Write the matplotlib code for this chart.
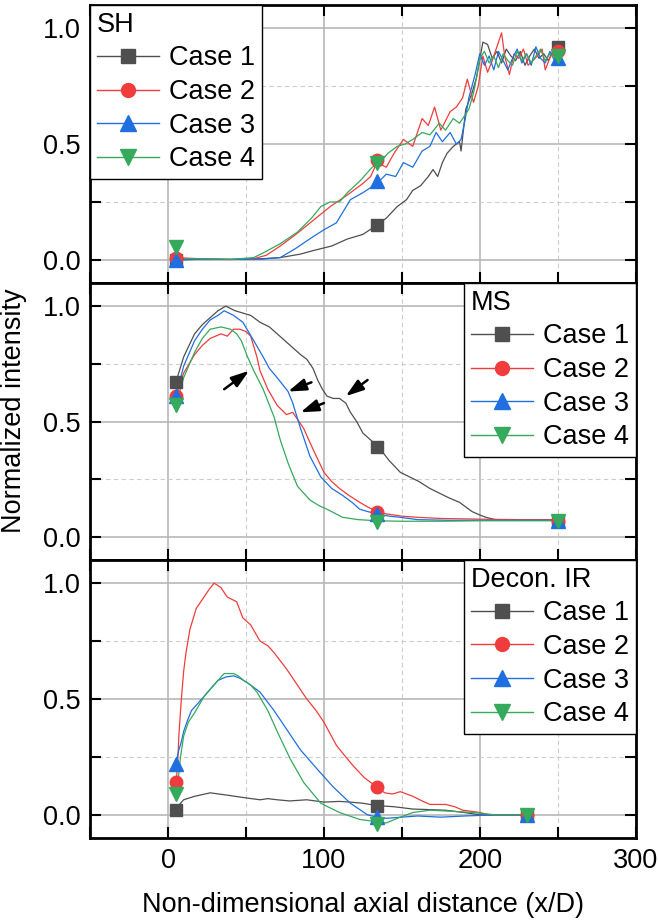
import matplotlib
matplotlib.use("Agg")
import matplotlib.pyplot as plt
from matplotlib.lines import Line2D
from matplotlib.ticker import MultipleLocator, FormatStrFormatter

plt.rcParams["font.family"] = ["Liberation Sans", "DejaVu Sans"]

# ---- data ----
case_labels = ["Case 1", "Case 2", "Case 3", "Case 4"]
case_colors = ["#4f4f4f", "#f03c3c", "#1f6fe0", "#35a95c"]
case_markers = ["s", "o", "^", "v"]

# SH
sh_x1 = [5, 20, 40, 60, 72, 85, 93, 105, 115, 125, 134, 140, 147, 153, 157, 162, 167, 170, 173, 176,
         179, 183, 187, 188, 191, 195, 198, 202, 205, 208, 211, 214, 217, 220, 223, 226, 229, 232,
         235, 238, 241, 244, 247, 250]
sh_y1 = [0, 0.003, 0.002, 0.005, 0.01, 0.025, 0.04, 0.06, 0.09, 0.11, 0.15, 0.18, 0.23, 0.26, 0.30,
         0.32, 0.36, 0.39, 0.36, 0.42, 0.46, 0.49, 0.51, 0.47, 0.65, 0.72, 0.79, 0.94, 0.93, 0.87,
         0.90, 0.85, 0.91, 0.88, 0.86, 0.90, 0.84, 0.88, 0.91, 0.87, 0.89, 0.86, 0.90, 0.92]
sh_x2 = [5, 20, 40, 55, 63, 72, 82, 93, 104, 115, 125, 130, 134, 140, 145, 151, 157, 163, 167, 171,
         175, 178, 181, 185, 189, 192, 196, 199, 202, 205, 208, 211, 214, 216, 219, 222, 225, 228,
         231, 234, 237, 240, 242, 246, 250]
sh_y2 = [0.01, 0.005, 0.002, 0.005, 0.02, 0.06, 0.11, 0.17, 0.23, 0.28, 0.33, 0.36, 0.42, 0.40,
         0.46, 0.52, 0.49, 0.61, 0.58, 0.66, 0.56, 0.60, 0.64, 0.66, 0.70, 0.78, 0.68, 0.75, 0.88,
         0.81, 0.86, 0.92, 0.98, 0.88, 0.80, 0.89, 0.87, 0.91, 0.84, 0.86, 0.88, 0.91, 0.82, 0.89, 0.90]
sh_x3 = [5, 20, 40, 60, 72, 82, 93, 100, 108, 117, 125, 134, 140, 146, 151, 157, 163, 168, 172, 176,
         181, 185, 188, 191, 193, 197, 200, 203, 206, 209, 212, 215, 218, 221, 224, 227, 230, 233,
         236, 239, 242, 245, 248, 250]
sh_y3 = [0, 0.002, 0.002, 0.003, 0.01, 0.05, 0.10, 0.13, 0.16, 0.26, 0.29, 0.33, 0.37, 0.36, 0.42,
         0.40, 0.47, 0.49, 0.55, 0.51, 0.55, 0.50, 0.52, 0.62, 0.70, 0.80, 0.89, 0.84, 0.88, 0.82,
         0.90, 0.86, 0.82, 0.87, 0.91, 0.85, 0.89, 0.84, 0.92, 0.87, 0.85, 0.90, 0.86, 0.87]
sh_x4 = [5, 20, 40, 55, 61, 72, 83, 92, 98, 104, 110, 115, 123, 131, 136, 141, 147, 152, 157, 163,
         168, 174, 178, 183, 187, 190, 193, 196, 198, 200, 203, 206, 209, 212, 215, 218, 221, 224,
         227, 230, 233, 236, 239, 242, 245, 248, 250]
sh_y4 = [0.005, 0.005, 0.002, 0.01, 0.03, 0.07, 0.12, 0.18, 0.23, 0.25, 0.25, 0.29, 0.34, 0.40,
         0.42, 0.46, 0.49, 0.50, 0.52, 0.55, 0.54, 0.59, 0.56, 0.61, 0.59, 0.62, 0.65, 0.72, 0.79,
         0.87, 0.90, 0.85, 0.88, 0.83, 0.89, 0.86, 0.84, 0.90, 0.86, 0.89, 0.85, 0.88, 0.91, 0.86,
         0.89, 0.87, 0.88]
sh_mark_x = [5, 134, 250]
sh_mark_y = [[0.0, 0.15, 0.92], [0.01, 0.43, 0.90], [0.0, 0.34, 0.87], [0.055, 0.42, 0.88]]

# MS
ms_x1 = [5, 10, 17, 22, 27, 32, 37, 43, 48, 53, 59, 65, 70, 75, 80, 85, 89, 93, 96, 99, 102, 106,
         110, 114, 117, 121, 125, 130, 135, 142, 149, 155, 161, 168, 174, 180, 187, 191, 195, 200,
         204, 210, 220, 235, 250]
ms_y1 = [0.67, 0.78, 0.88, 0.92, 0.95, 0.98, 1.0, 0.98, 0.97, 0.96, 0.93, 0.91, 0.88, 0.85, 0.82,
         0.79, 0.77, 0.73, 0.68, 0.64, 0.61, 0.60, 0.60, 0.58, 0.54, 0.50, 0.45, 0.42, 0.39, 0.33,
         0.28, 0.26, 0.24, 0.21, 0.19, 0.17, 0.15, 0.13, 0.11, 0.095, 0.085, 0.075, 0.075, 0.073, 0.075]
ms_x2 = [5, 10, 17, 22, 27, 34, 38, 42, 46, 50, 53, 57, 59, 64, 70, 76, 80, 84, 87, 93, 100, 105,
         110, 116, 123, 128, 134, 140, 150, 160, 175, 200, 225, 250]
ms_y2 = [0.61, 0.71, 0.79, 0.83, 0.86, 0.88, 0.87, 0.90, 0.90, 0.89, 0.87, 0.78, 0.72, 0.64, 0.57,
         0.53, 0.54, 0.50, 0.47, 0.38, 0.28, 0.24, 0.21, 0.18, 0.15, 0.13, 0.11, 0.10, 0.09, 0.085,
         0.08, 0.077, 0.075, 0.075]
ms_x3 = [5, 10, 17, 22, 27, 32, 36, 42, 48, 55, 61, 65, 70, 77, 80, 85, 91, 98, 105, 112, 118, 123,
         128, 134, 142, 149, 160, 180, 200, 220, 250]
ms_y3 = [0.61, 0.74, 0.85, 0.90, 0.94, 0.96, 0.98, 0.96, 0.93, 0.85, 0.78, 0.73, 0.69, 0.63, 0.58,
         0.47, 0.35, 0.26, 0.21, 0.18, 0.15, 0.12, 0.11, 0.10, 0.09, 0.085, 0.075, 0.072, 0.072,
         0.072, 0.072]
ms_x4 = [5, 10, 17, 22, 27, 34, 40, 44, 47, 51, 55, 61, 68, 72, 77, 83, 91, 97, 102, 112, 122, 134,
         150, 175, 200, 225, 250]
ms_y4 = [0.57, 0.69, 0.80, 0.86, 0.90, 0.91, 0.90, 0.88, 0.85, 0.78, 0.72, 0.64, 0.52, 0.42, 0.32,
         0.22, 0.16, 0.135, 0.12, 0.085, 0.075, 0.07, 0.068, 0.068, 0.07, 0.07, 0.07]
ms_mark_x = [5, 134, 250]
ms_mark_y = [[0.67, 0.39, 0.07], [0.61, 0.11, 0.07], [0.61, 0.10, 0.07], [0.57, 0.065, 0.07]]
# arrows: (tail x, tail y, head x, head y)
ms_arrows = [(36, 0.64, 52, 0.72), (92, 0.67, 77, 0.63), (100, 0.58, 85, 0.54), (128, 0.68, 114, 0.61)]

# Decon. IR
ir_x1 = [5, 8, 10, 17, 27, 38, 48, 59, 64, 70, 78, 89, 100, 110, 117, 125, 134, 145, 157, 170, 178,
         190, 200, 215, 230]
ir_y1 = [0.02, 0.05, 0.065, 0.08, 0.095, 0.085, 0.075, 0.065, 0.07, 0.065, 0.06, 0.065, 0.055,
         0.058, 0.055, 0.05, 0.04, 0.035, 0.025, 0.022, 0.02, 0.01, 0.0, 0.0, 0.0]
ir_x2 = [5, 6, 7, 8.3, 10, 11.5, 14, 18, 23, 26, 29.5, 32, 34, 38, 44, 48, 53, 59, 64, 68, 76, 83,
         89, 95, 100, 108, 114, 119, 126, 134, 139, 144, 149, 157, 163, 168, 178, 184, 189, 195, 200,
         206, 215, 230]
ir_y2 = [0.14, 0.2, 0.35, 0.48, 0.62, 0.70, 0.80, 0.89, 0.94, 0.97, 1.0, 0.99, 0.98, 0.94, 0.92,
         0.85, 0.82, 0.75, 0.73, 0.70, 0.63, 0.56, 0.50, 0.45, 0.40, 0.30, 0.25, 0.21, 0.16, 0.12,
         0.095, 0.09, 0.10, 0.08, 0.06, 0.045, 0.045, 0.035, 0.02, 0.015, 0.01, 0.0, 0.0, 0.0]
ir_x3 = [5, 6.5, 8.3, 10, 12.6, 15, 19, 25.5, 32, 37, 42, 46, 51, 59, 68, 76, 85, 96, 106, 117, 128,
         134, 140, 150, 160, 175, 190, 210, 230]
ir_y3 = [0.22, 0.27, 0.31, 0.36, 0.41, 0.45, 0.48, 0.53, 0.58, 0.595, 0.60, 0.59, 0.57, 0.53, 0.45,
         0.37, 0.28, 0.195, 0.12, 0.05, 0.0, -0.01, -0.015, -0.01, -0.005, -0.01, -0.005, 0.0, 0.0]
ir_x4 = [5, 6.5, 8, 10, 13, 17, 23, 28, 32, 36, 42, 45, 48.5, 53, 57, 64, 70, 78.5, 87, 98, 110, 123,
         134, 140, 149, 157, 168, 183, 196, 210, 230]
ir_y4 = [0.09, 0.15, 0.25, 0.34, 0.40, 0.44, 0.51, 0.55, 0.58, 0.61, 0.61, 0.60, 0.58, 0.56, 0.53,
         0.45, 0.36, 0.24, 0.14, 0.05, 0.01, -0.02, -0.03, -0.035, -0.01, 0.01, 0.02, 0.015, 0.01,
         0.0, 0.0]
ir_mark_x = [5, 134, 230]
ir_mark_y = [[0.02, 0.04, 0.0], [0.14, 0.12, 0.0], [0.22, -0.01, 0.0], [0.09, -0.04, 0.0]]

panels = [
    ("SH", [(sh_x1, sh_y1), (sh_x2, sh_y2), (sh_x3, sh_y3), (sh_x4, sh_y4)], sh_mark_x, sh_mark_y,
     "upper left"),
    ("MS", [(ms_x1, ms_y1), (ms_x2, ms_y2), (ms_x3, ms_y3), (ms_x4, ms_y4)], ms_mark_x, ms_mark_y,
     "upper right"),
    ("Decon. IR", [(ir_x1, ir_y1), (ir_x2, ir_y2), (ir_x3, ir_y3), (ir_x4, ir_y4)], ir_mark_x,
     ir_mark_y, "upper right"),
]

FS = 19.5
fig = plt.figure(figsize=(6.58, 9.22), dpi=100)
left, width = 0.137, 0.829
bottoms = [0.6930, 0.3926, 0.0911]
heights = [0.3015, 0.3004, 0.3015]

for i, (name, lines, mx, my, loc) in enumerate(panels):
    ax = fig.add_axes([left, bottoms[i], width, heights[i]])
    for k in range(4):
        ax.plot(lines[k][0], lines[k][1], color=case_colors[k], lw=0.9, zorder=3)
    for k in range(4):
        ax.plot(mx, my[k], ls="none", marker=case_markers[k], color=case_colors[k],
                ms=10 if case_markers[k] in "^v" else 9, zorder=4)
    ax.set_xlim(-50, 300)
    ax.set_ylim(-0.1, 1.1)
    ax.xaxis.set_major_locator(MultipleLocator(100))
    ax.xaxis.set_minor_locator(MultipleLocator(50))
    ax.yaxis.set_major_locator(MultipleLocator(0.5))
    ax.yaxis.set_minor_locator(MultipleLocator(0.25))
    ax.yaxis.set_major_formatter(FormatStrFormatter("%.1f"))
    ax.grid(which="major", color="#b8b8b8", lw=1.2, zorder=0)
    ax.grid(which="minor", color="#cccccc", lw=0.8, ls=(0, (4, 3)), zorder=0)
    ax.set_axisbelow(True)
    ax.tick_params(which="both", direction="in", top=True, right=True, length=8, width=1.5,
                   labelsize=FS, pad=7)
    if i < 2:
        ax.tick_params(labelbottom=False)
    for sp in ax.spines.values():
        sp.set_linewidth(2)

    handles = [Line2D([], [], color=case_colors[k], lw=1, marker=case_markers[k],
                      ms=11 if case_markers[k] in "^v" else 10) for k in range(4)]
    leg = ax.legend(handles, case_labels, title=name, loc=loc, fontsize=FS, title_fontsize=FS,
                    alignment="left", borderaxespad=0, fancybox=False, framealpha=1,
                    edgecolor="black", handlelength=2.3, handletextpad=0.35, labelspacing=0.28,
                    borderpad=0.25)
    leg.get_frame().set_linewidth(1.0)
    leg.set_zorder(10)

    if name == "MS":
        for tx, ty, hx, hy in ms_arrows:
            ax.annotate("", xy=(hx, hy), xytext=(tx, ty),
                        arrowprops=dict(arrowstyle="-|>,head_length=0.9,head_width=0.3",
                                        color="black", lw=1.8, mutation_scale=12,
                                        shrinkA=0, shrinkB=0))

fig.text(0.022, 0.555, "Normalized intensity", rotation=90, ha="center", va="center", fontsize=FS)
fig.text(left + width / 2, 0.018, "Non-dimensional axial distance (x/D)", ha="center",
         va="center", fontsize=FS)

fig.savefig("out.png", dpi=100)
